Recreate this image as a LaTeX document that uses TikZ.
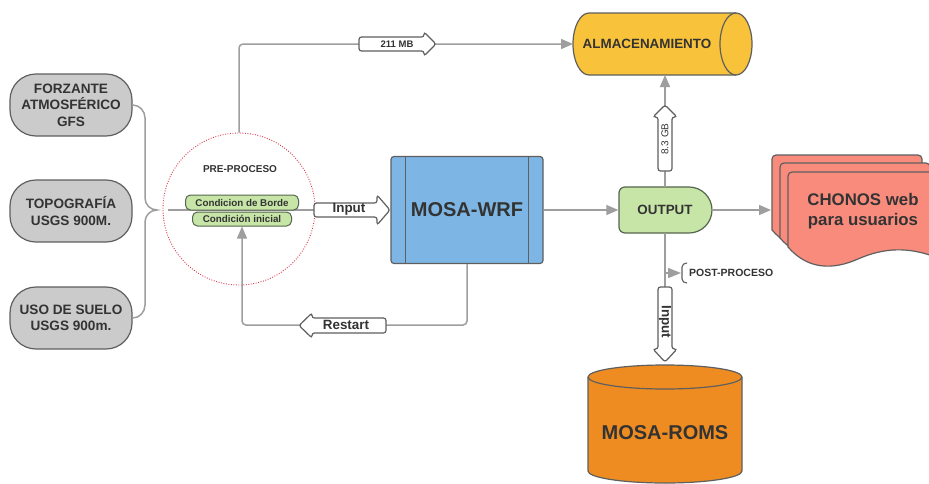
\documentclass[tikz,border=0pt]{standalone}
\usepackage{fontspec}
\setmainfont{Liberation Sans}
\usetikzlibrary{arrows.meta}
\definecolor{txt}{HTML}{333333}
\definecolor{ln}{HTML}{9E9E9E}
\definecolor{bd}{HTML}{5F5F5F}
\definecolor{grayfill}{HTML}{CBCBCB}
\definecolor{greenfill}{HTML}{C6E5A7}
\definecolor{greenbd}{HTML}{56654E}
\definecolor{bluefill}{HTML}{7DB6E4}
\definecolor{yellowfill}{HTML}{F8C23A}
\definecolor{orangefill}{HTML}{EE8C21}
\definecolor{pinkfill}{HTML}{F98B7C}
\definecolor{dotred}{HTML}{D9364A}
\tikzset{
  conn/.style={draw=ln, line width=1.5pt},
  tipa/.style={-{Triangle[length=12pt,width=10pt]}},
  gbox/.style={draw=bd, fill=grayfill, line width=1.2pt, rounded corners=26pt,
    minimum width=122pt, minimum height=62pt, align=center, text=txt,
    font=\fontsize{13.6}{16.5}\selectfont\bfseries},
  cbox/.style={draw=greenbd, fill=greenfill, line width=1pt, rounded corners=5pt,
    inner sep=0pt, text=txt, font=\fontsize{9.8}{11}\selectfont\bfseries},
  harrow/.style={draw=bd, fill=white, line width=1.2pt, rounded corners=2.5pt},
  lbl/.style={text=txt, inner sep=0pt, font=\fontsize{13.4}{16}\selectfont\bfseries},
  small/.style={text=txt, inner sep=0pt, font=\fontsize{9.5}{11}\selectfont\bfseries},
  docst/.style={draw=bd, fill=pinkfill, line width=1.2pt},
}
\begin{document}
\begin{tikzpicture}[x=1pt,y=-1pt]
\useasboundingbox (0,0) rectangle (929,483);
\fill[white] (0,0) rectangle (929,483);

% ---------- input boxes ----------
\node[gbox] (f) at (71,105) {FORZANTE\\ATMOSFÉRICO\\GFS};
\node[gbox] (t) at (71,211) {TOPOGRAFÍA\\USGS 900M.};
\node[gbox] (u) at (71,318) {USO DE SUELO\\USGS 900m.};

% brace
\draw[conn] (f.east) to[out=0,in=90] (145,118) -- (145,198)
  to[out=-90,in=180] (157,210) to[out=180,in=90] (145,222)
  -- (145,305) to[out=-90,in=0] (u.east);

% ---------- pre-proceso ----------
\node[circle, draw=dotred, line width=0.9pt, dash pattern=on 0.9pt off 1.6pt,
  minimum size=152pt, inner sep=0pt] (pre) at (239,209) {};
\node[small, font=\fontsize{10}{12}\selectfont\bfseries] (ppt) at (240,169) {PRE-PROCESO};
\coordinate (ls) at (168,210);
\coordinate (inT) at (314,210);
\draw[conn] (ls) -- (inT);
\node[cbox, minimum width=113pt, minimum height=15pt] (cb) at (242,202.5) {Condicion de Borde};
\node[cbox, minimum width=99pt, minimum height=14pt] (ci) at (242,219) {Condición inicial};

% Input hollow arrow
\draw[harrow] (314,210) -- (314,203) -- (377,203) -- (377,195) -- (390,210)
  -- (377,225) -- (377,217) -- (314,217) -- cycle;
\node[lbl] (inl) at (349,209) {Input};

% ---------- almacenamiento ----------
\filldraw[draw=bd, fill=yellowfill, line width=1.2pt]
  (589,13) -- (736,13) arc(-90:90:16 and 31) -- (589,75) arc(90:270:16 and 31) -- cycle;
\draw[bd, line width=1.2pt] (736,75) arc(90:270:16 and 31);
\node[lbl] (alm) at (647,44) {ALMACENAMIENTO};
\coordinate (almW) at (573,44);
\coordinate (almS) at (665,75);

\draw[conn, tipa, rounded corners=4pt] (pre.north) |- (almW);
\draw[harrow] (359,44) -- (359,37) -- (424,37) -- (424,32) -- (436,44)
  -- (424,56) -- (424,51) -- (359,51) -- cycle;
\node[small] (mb) at (397,44) {211 MB};

% ---------- MOSA-WRF ----------
\node[draw=bd, fill=bluefill, line width=1.2pt, rounded corners=3pt,
  minimum width=152pt, minimum height=107pt, text=txt,
  font=\fontsize{20}{24}\selectfont\bfseries] (wrf) at (467,210) {MOSA-WRF};
\draw[bd, line width=1.2pt] ([xshift=15pt]wrf.north west) -- ([xshift=15pt]wrf.south west);
\draw[bd, line width=1.2pt] ([xshift=-15pt]wrf.north east) -- ([xshift=-15pt]wrf.south east);

% ---------- OUTPUT ----------
\filldraw[draw=greenbd, fill=greenfill, line width=1.2pt]
  (625,187) -- (689,187) arc(-90:90:23) -- (625,233) arc(90:180:6)
  -- (619,193) arc(180:270:6) -- cycle;
\node[lbl, minimum width=93pt, minimum height=46pt] (out) at (665,210) {OUTPUT};

\draw[conn, tipa] (wrf.east) -- (out.west);
\draw[conn, tipa] (out.north) -- (almS);
\draw[harrow] (672,171) -- (658,171) -- (658,117) -- (653,117) -- (665,105)
  -- (677,117) -- (672,117) -- cycle;
\node[small, font=\fontsize{10}{12}\selectfont, rotate=90] (gb) at (665,139) {8.3 GB};

% ---------- CHONOS ----------
\begin{scope}[shift={(772,155)}]
\filldraw[docst] (0,4) arc(180:270:4) -- (146,0) arc(270:360:4) -- (150,86)
  .. controls (120,74) and (95,76) .. (70,87) .. controls (45,98) and (20,98) .. (0,75) -- cycle;
\end{scope}
\begin{scope}[shift={(780,163)}]
\filldraw[docst] (0,4) arc(180:270:4) -- (146,0) arc(270:360:4) -- (150,86)
  .. controls (120,74) and (95,76) .. (70,87) .. controls (45,98) and (20,98) .. (0,75) -- cycle;
\end{scope}
\begin{scope}[shift={(788,172)}]
\filldraw[docst] (0,4) arc(180:270:4) -- (146,0) arc(270:360:4) -- (150,86)
  .. controls (120,74) and (95,76) .. (70,87) .. controls (45,98) and (20,98) .. (0,75) -- cycle;
\end{scope}
\coordinate (chW) at (771,210);
\node[lbl, align=center, font=\fontsize{16.8}{19.5}\selectfont\bfseries] (ch) at (863,211) {CHONOS web\\para usuarios};
\draw[conn, tipa] (out.east) -- (chW);

% ---------- MOSA-ROMS ----------
\filldraw[draw=bd, fill=orangefill, line width=1.2pt]
  (588,377) arc(180:360:77 and 12) -- (742,471) arc(0:180:77 and 12) -- cycle;
\draw[bd, line width=1.2pt] (588,377) arc(180:0:77 and 12);
\node[lbl, font=\fontsize{20}{24}\selectfont\bfseries] (roms) at (665,433) {MOSA-ROMS};

% post-proceso
\coordinate (inD) at (665,287);
\draw[conn] (out.south) -- (inD);
\draw[conn, -{Triangle[length=13pt,width=10pt]}] (665,273) -- (681,273);
\draw[bd, line width=1.1pt] (687,263) to[out=180,in=90] (682,267) -- (682,279) to[out=-90,in=180] (687,283);
\node[small, font=\fontsize{10.5}{12}\selectfont\bfseries, anchor=west] (post) at (689,273) {POST-PROCESO};

\draw[harrow] (672,287) -- (658,287) -- (658,349) -- (653,349) -- (665,362)
  -- (677,349) -- (672,349) -- cycle;
\node[lbl, rotate=-90] (inl2) at (665,322) {Input};

% ---------- restart loop ----------
\coordinate (rl) at (0,325);
\draw[conn, tipa, rounded corners=4pt] (wrf.south) -- (wrf.south |- rl) -- (ci.south |- rl) -- (ci.south);
\draw[harrow] (386,325) -- (386,318) -- (312,318) -- (312,313) -- (299,325.5)
  -- (312,338) -- (312,333) -- (386,333) -- cycle;
\node[lbl] (rs) at (346,325) {Restart};
\end{tikzpicture}
\end{document}
